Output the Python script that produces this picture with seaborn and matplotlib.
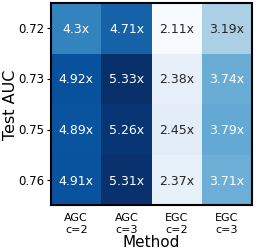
import numpy as np
import pandas as pd
import seaborn as sns
import matplotlib.pyplot as plt

# 数据
methods = ['AGC\nc=2', 'AGC\nc=3', 'EGC\nc=2', 'EGC\nc=3']
test_auc = ['0.72', '0.73', '0.75', '0.76']
agc_c2 = [4.30, 4.92, 4.89, 4.91]
agc_c3 = [4.71, 5.33, 5.26, 5.31]
egc_c2 = [2.11, 2.38, 2.45, 2.37]
egc_c3 = [3.19, 3.74, 3.79, 3.71]

df = pd.DataFrame({methods[0]: agc_c2, methods[1]: agc_c3,
                   methods[2]: egc_c2, methods[3]: egc_c3}, index=test_auc)
labels = df.map(lambda v: f'{v:g}x')

fig = plt.figure(figsize=(2.58, 2.53), dpi=100)
ax = fig.add_axes([0.198, 0.184, 0.779, 0.8])
sns.heatmap(df, cmap='Blues', annot=labels, fmt='', cbar=False, ax=ax,
            annot_kws={'fontsize': 9})

# 黑色边框
for s in ax.spines.values():
    s.set_visible(True)
    s.set_color('black')
    s.set_linewidth(1.5)

ax.set_xlabel('Method', fontsize=11, labelpad=0)
ax.set_ylabel('Test AUC', fontsize=11.5, labelpad=0)
ax.tick_params(axis='x', labelsize=8, length=0, pad=5)
ax.tick_params(axis='y', labelsize=8.5, rotation=0, length=3, width=0.8, pad=2)

plt.savefig('out.png', dpi=100)
